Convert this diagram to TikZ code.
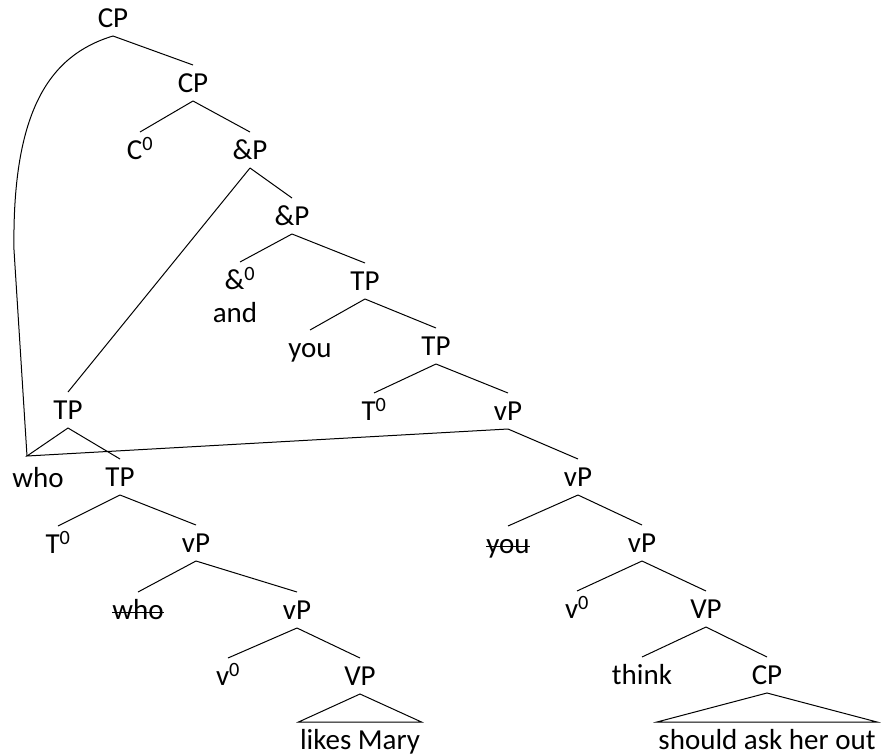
\documentclass[tikz,border=0pt]{standalone}
\usepackage{fontspec}
\setmainfont{Carlito}
\newcommand{\strk}[1]{\setbox0\hbox{#1}\rlap{\rule[0.23em]{\wd0}{1.3pt}}\box0}
\begin{document}
\begin{tikzpicture}[x=1pt, y=-1pt, line width=1pt,
    every node/.style={font=\fontsize{29}{32}\selectfont, text height=21pt,
                       text depth=2pt, inner xsep=1pt, inner ysep=6pt}]
    \useasboundingbox (0,0) rectangle (883,755);

    \node (cp1) at (113,18) {CP};
    \node (cp2) at (193,83) {CP};
    \node (c0) at (140,150) {C\textsuperscript{0}};
    \node (ap1) at (250,150) {\&P};
    \node (ap2) at (292,216) {\&P};
    \node (a0) at (240,280) {\&\textsuperscript{0}};
    \node (and) at (235,313) {and};
    \node (tp1) at (365,281) {TP};
    \node (you1) at (310,348) {you};
    \node (tp2) at (436,346) {TP};
    \node (t01) at (374,411) {T\textsuperscript{0}};
    \node (vp1) at (508,411) {vP};
    \node (vp2) at (578,477) {vP};
    \node (you2) at (508,544) {\strk{you}};
    \node (vp3) at (642,543) {vP};
    \node (v01) at (577,609) {v\textsuperscript{0}};
    \node (vpb1) at (706,609) {VP};
    \node (think) at (642,675) {think};
    \node (cpb) at (767,675) {CP};
    \node (sah) at (767,740) {should ask her out};

    \node (tpw) at (68,410) {TP};
    \coordinate (whoc) at (27,456);
    \node (who1) at (38,478) {who};
    \node (tp3) at (120,477) {TP};
    \node (t02) at (58,544) {T\textsuperscript{0}};
    \node (vp4) at (196,543) {vP};
    \node (who2) at (138,610) {\strk{who}};
    \node (vp5) at (297,610) {vP};
    \node (v02) at (228,676) {v\textsuperscript{0}};
    \node (vpb2) at (360,676) {VP};
    \node (lm) at (360,740) {likes Mary};

    \foreach \a/\b in {cp1/cp2, cp2/c0, cp2/ap1, ap1/ap2, ap1/tpw, ap2/a0, ap2/tp1,
                       tp1/you1, tp1/tp2, tp2/t01, tp2/vp1, vp1/vp2, vp2/you2, vp2/vp3,
                       vp3/v01, vp3/vpb1, vpb1/think, vpb1/cpb,
                       tpw/tp3, tp3/t02, tp3/vp4, vp4/who2, vp4/vp5, vp5/v02, vp5/vpb2}
        \draw (\a.south) -- (\b.north);

    \draw (cpb.south) -- (sah.north west) -- (sah.north east) -- cycle;
    \draw (vpb2.south) -- (lm.north west) -- (lm.north east) -- cycle;

    \draw (tpw.south) -- (whoc) -- (vp1.south);
    \draw (cp1.south) .. controls (50,55) and (12,110) .. (14,250) -- (whoc);
\end{tikzpicture}
\end{document}
